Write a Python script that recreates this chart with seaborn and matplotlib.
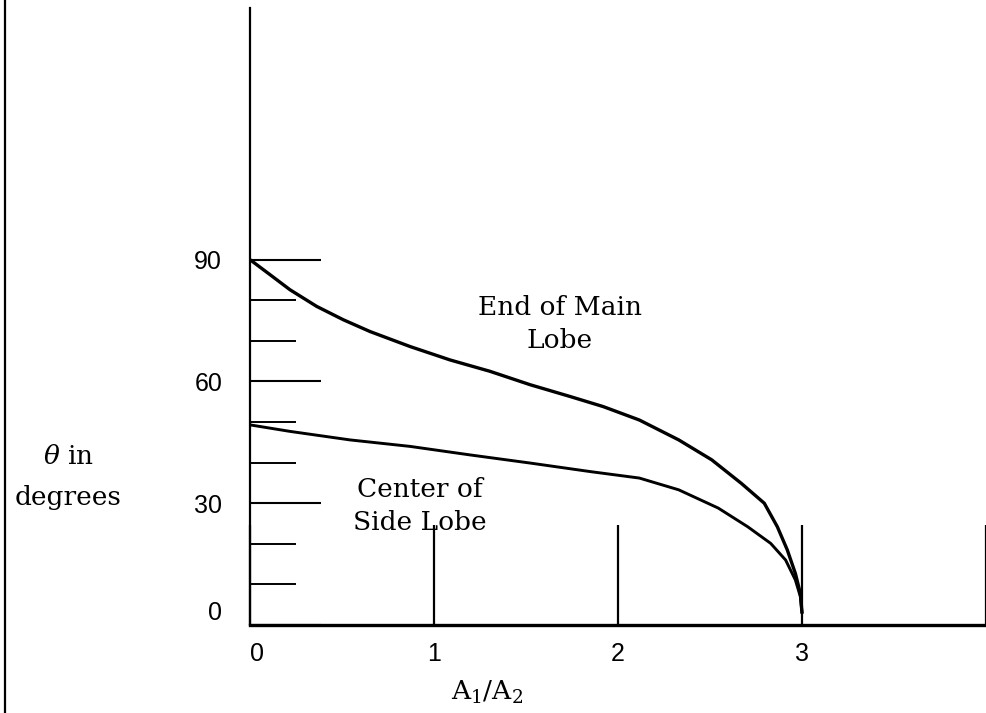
import matplotlib
matplotlib.use("Agg")
import matplotlib.pyplot as plt
from matplotlib.lines import Line2D
import seaborn as sns
import pandas as pd

# End of main lobe: theta (deg) versus amplitude ratio A1/A2
ratio_main = [0.0, 0.109, 0.217, 0.362, 0.507, 0.652, 0.870, 1.087, 1.304, 1.522,
              1.739, 1.920, 2.116, 2.330, 2.509, 2.670, 2.795, 2.866, 2.920, 2.964,
              2.991, 3.0]
theta_main = [90.0, 86.3, 82.6, 78.5, 75.2, 72.3, 68.6, 65.3, 62.5, 59.2,
              56.3, 53.8, 50.5, 45.6, 40.7, 34.9, 30.0, 24.2, 18.5, 12.7,
              7.8, 3.0]

# Center of side lobe
ratio_side = [0.0, 0.217, 0.543, 0.870, 1.196, 1.522, 1.848, 2.116, 2.330, 2.545,
              2.705, 2.830, 2.911, 2.964, 2.991, 3.0]
theta_side = [49.3, 47.7, 45.6, 44.0, 41.9, 39.9, 37.8, 36.2, 33.3, 28.8,
              24.2, 20.1, 16.0, 11.1, 7.0, 3.0]

x_ticks = [0, 1, 2, 3, 4]
x_tick_labels = ["0", "1", "2", "3", ""]
y_major = [0, 30, 60, 90]
y_major_labels = ["0", "30", "60", "90"]
y_minor = [10, 20, 40, 50, 70, 80]

sns.set_theme(style="ticks")
plt.rcParams.update({
    "font.family": ["DejaVu Serif"],
    "mathtext.fontset": "dejavuserif",
    "text.color": "black",
    "axes.edgecolor": "black",
    "xtick.color": "black",
    "ytick.color": "black",
})

W, H = 986, 713
fig = plt.figure(figsize=(W / 100, H / 100), dpi=100)
fig.patch.set_facecolor("white")
ax = fig.add_axes([250 / W, (H - 625) / H, (W - 250) / W, (625 - 8) / H])
ax.set_facecolor("white")

main_df = pd.DataFrame({"ratio": ratio_main, "theta": theta_main})
side_df = pd.DataFrame({"ratio": ratio_side, "theta": theta_side})
sns.lineplot(data=main_df, x="ratio", y="theta", ax=ax, color="black",
             linewidth=2.4, sort=False, estimator=None)
sns.lineplot(data=side_df, x="ratio", y="theta", ax=ax, color="black",
             linewidth=2.1, sort=False, estimator=None)

ax.set_xlim(0, 4)
ax.set_ylim(0, 152)

for side in ("top", "right"):
    ax.spines[side].set_visible(False)
ax.spines["left"].set_linewidth(1.6)
ax.spines["bottom"].set_linewidth(2.4)

tick_font = dict(family="Liberation Sans", size=18, color="black")
ax.set_xticks(x_ticks)
ax.set_xticklabels(x_tick_labels, fontdict=tick_font)
ax.set_yticks(y_major)
ax.set_yticklabels(y_major_labels, fontdict=tick_font)
ax.set_yticks(y_minor, minor=True)
ax.tick_params(axis="x", direction="in", length=72, width=1.6, pad=12)
ax.tick_params(axis="y", which="major", direction="in", length=51, width=1.5, pad=20)
ax.tick_params(axis="y", which="minor", direction="in", length=33, width=1.4)

# the origin labels sit just inside the corner
ax.get_xticklabels()[0].set_horizontalalignment("left")
ax.get_yticklabels()[0].set_verticalalignment("bottom")

ax.set_xlabel("")
ax.set_ylabel("")

ax.text(1.685, 74.2, "End of Main\nLobe", ha="center", va="center",
        fontsize=19, linespacing=1.4, color="black")
ax.text(0.924, 29.3, "Center of\nSide Lobe", ha="center", va="center",
        fontsize=19, linespacing=1.4, color="black")

fig.text(68 / W, 1 - 457 / H, r"$\theta$ in", ha="center", va="center",
         fontsize=19, color="black")
fig.text(68 / W, 1 - 497 / H, "degrees", ha="center", va="center",
         fontsize=19, color="black")
fig.text(487 / W, 1 - 692 / H, r"A$_1$/A$_2$", ha="center", va="center",
         fontsize=19, color="black")

fig.add_artist(Line2D([5 / W, 5 / W], [0, 1], transform=fig.transFigure,
                      color="black", linewidth=1.6))

fig.savefig("out.png", dpi=100, facecolor="white")
